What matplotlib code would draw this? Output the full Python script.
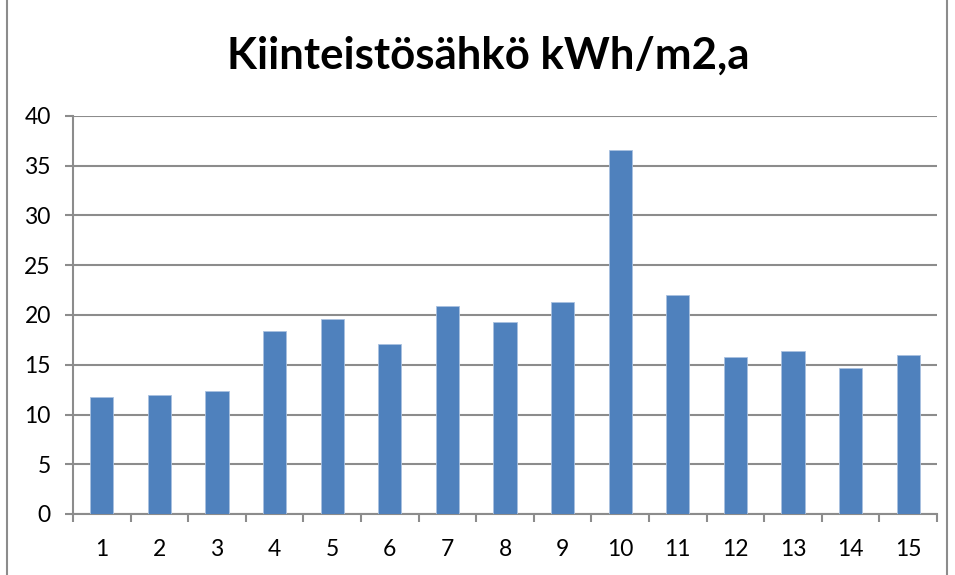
import numpy as np
import matplotlib.pyplot as plt
from matplotlib.lines import Line2D

# Kiinteistösähkö per building
kohteet = [str(i) for i in range(1, 16)]
arvot = [11.8, 12.0, 12.4, 18.4, 19.6, 17.1, 20.9, 19.3, 21.3, 36.6, 22.0, 15.8, 16.4, 14.7, 16.0]
yticks = [0, 5, 10, 15, 20, 25, 30, 35, 40]

plt.rcParams['font.family'] = ['Lato', 'DejaVu Sans']

fig = plt.figure(figsize=(9.55, 5.75), dpi=100)
ax = fig.add_axes([73/955, 61/575, 864/955, 398/575])

x = np.arange(1, len(arvot) + 1)
ax.bar(x, arvot, width=0.4, color='#4F81BD', edgecolor='#A9C1E0', linewidth=0.6, zorder=3)

ax.set_xlim(0.5, len(arvot) + 0.5)
ax.set_ylim(0, 40)
ax.set_yticks(yticks)
ax.set_yticklabels([str(t) for t in yticks], fontsize=16.5)
ax.yaxis.grid(True, color='#8C8C8C', linewidth=1.5, zorder=0)

ax.set_xticks(x)
ax.set_xticklabels(kohteet, fontsize=16.5)
ax.set_xticks(np.arange(0.5, len(arvot) + 1), minor=True)
ax.tick_params(axis='x', which='major', length=0, pad=18)
ax.tick_params(axis='x', which='minor', length=6, color='#8C8C8C', width=1.5, direction='out')
ax.tick_params(axis='y', length=6, color='#8C8C8C', width=1.5, pad=10)

for s in ['top', 'right']:
    ax.spines[s].set_visible(False)
for s in ['left', 'bottom']:
    ax.spines[s].set_color('#8C8C8C')
    ax.spines[s].set_linewidth(1.5)

fig.text(488/955, 1 - 56/575, 'Kiinteistösähkö kWh/m2,a', ha='center', va='center',
         fontsize=31.5, fontweight='bold')

# outer chart border
fig.add_artist(Line2D([7/955, 7/955], [0, 1], color='#8C8C8C', lw=1.5, transform=fig.transFigure))
fig.add_artist(Line2D([947/955, 947/955], [0, 1], color='#8C8C8C', lw=1.5, transform=fig.transFigure))

fig.savefig('out.png', dpi=100)
